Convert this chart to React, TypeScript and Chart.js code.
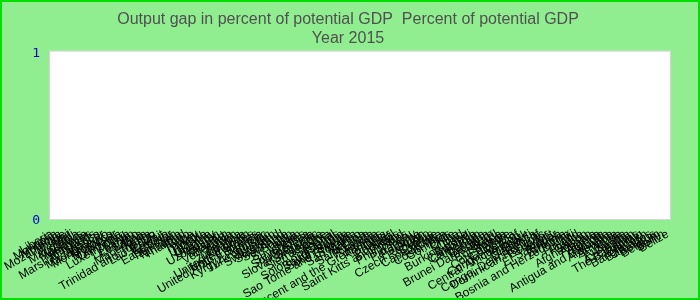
import React, { useEffect, useRef } from 'react';
import { Chart, registerables } from 'chart.js';

Chart.register(...registerables);

const titleLines = ['Output gap in percent of potential GDP  Percent of potential GDP', 'Year 2015'];

const countries = [
  'Liberia', 'Mongolia', 'Moldova', 'Mozambique', 'Malawi', 'Mali', 'Mauritania', 'Mauritius', 'Malaysia', 'Maldives',
  'Marshall Islands', 'Mexico', 'Madagascar', 'Montenegro', 'Morocco', 'Myanmar', 'Lithuania', 'Luxembourg', 'Libya', 'Lebanon',
  'Lesotho', 'Latvia', 'Macedonia', 'Malta', 'Trinidad and Tobago', 'Lao P.D.R.', 'Kuwait', 'Kosovo', 'East Timor', 'Tajikistan',
  'Tanzania', 'Thailand', 'Togo', 'Tonga', 'Turkey', 'Tuvalu', 'Uganda', 'Ukraine', 'Uruguay', 'Uzbekistan',
  'Vanuatu', 'Vietnam', 'Venezuela', 'Yemen', 'Zambia', 'Zimbabwe', 'United Kingdom', 'United States', 'United Arab Emirates', 'Tunisia',
  'Kyrgyz Republic', 'Turkmenistan', 'Sweden', 'Switzerland', 'Swaziland', 'Suriname', 'Sudan', 'Sri Lanka', 'Spain', 'Seychelles',
  'South Africa', 'Slovenia', 'Slovak Republic', 'Singapore', 'Sierra Leone', 'Serbia', 'Senegal', 'Solomon Islands', 'Saudi Arabia', 'South Sudan',
  'Sao Tome and Principe', 'Somalia', 'San Marino', 'Samoa', 'Saint Lucia', 'Rwanda', 'Russia', 'Saint Vincent and the Grenadines', 'Romania', 'Qatar',
  'Portugal', 'Saint Kitts and Nevis', 'Poland', 'Philippines', 'Peru', 'Paraguay', 'Panama', 'Oman', 'Czech Republic', 'Cyprus',
  'Cape Verde', 'Croatia', 'Costa Rica', 'Comoros', 'Chile', 'China', 'Chad', 'Burkina Faso', 'Burundi', 'Cambodia',
  'Cameroon', 'Canada', 'Bulgaria', 'Brunei Darussalam', 'Brazil', 'Botswana', 'Bolivia', "Cote d'Ivoire", 'Colombia', 'Congo, Rep. of',
  'Central African Rep.', 'Denmark', 'Djibouti', 'Dominica', 'Congo, Dem. Rep. of', 'Dominican Republic', 'Ecuador', 'Egypt', 'El Salvador', 'Eritrea',
  'Ethiopia', 'Bosnia and Herzegovina', 'Fiji', 'Finland', 'France', 'Gabon', 'Afghanistan', 'Albania', 'Algeria', 'Angola',
  'Antigua and Barbuda', 'Argentina', 'Armenia', 'Aruba', 'Australia', 'Austria', 'Azerbaijan', 'The Bahamas', 'Bahrain', 'Bangladesh',
  'Barbados', 'Belarus', 'Belgium', 'Benin', 'Belize',
];

// The 2015 output-gap series draws no bars in the reference: no values are plotted.
const outputGap2015: (number | null)[] = [];

const yTicks = [0, 1];

const framePlugin = {
  id: 'frame',
  beforeDraw(chart: any) {
    const { ctx, width, height, chartArea: a } = chart;
    ctx.save();
    ctx.fillStyle = '#90EE90';
    ctx.fillRect(0, 0, width, height);
    ctx.fillStyle = '#ffffff';
    ctx.fillRect(a.left, a.top, a.right - a.left, a.bottom - a.top);
    ctx.strokeStyle = '#d6d6d6';
    ctx.lineWidth = 1;
    ctx.strokeRect(a.left - 0.5, a.top - 0.5, a.right - a.left + 1, a.bottom - a.top + 1);
    ctx.restore();
  },
  afterDraw(chart: any) {
    const { ctx, width, height } = chart;
    ctx.save();
    ctx.strokeStyle = '#00e000';
    ctx.lineWidth = 2;
    ctx.strokeRect(1, 1, width - 2, height - 2);
    ctx.restore();
  },
};

export default function App() {
  const ref = useRef<HTMLCanvasElement | null>(null);

  useEffect(() => {
    if (!ref.current) return;
    const chart = new Chart(ref.current, {
      type: 'bar',
      data: {
        labels: countries,
        datasets: [
          {
            label: 'Output gap',
            data: outputGap2015 as any,
            backgroundColor: '#4472c4',
          },
        ],
      },
      options: {
        responsive: false,
        animation: false,
        layout: { padding: { left: 26, right: 30, top: 0, bottom: 0 } },
        plugins: {
          legend: { display: false },
          tooltip: { enabled: false },
          title: {
            display: true,
            text: titleLines,
            color: '#505050',
            font: { family: "'Liberation Sans', Arial, sans-serif", size: 16, weight: 'normal' },
            padding: { top: 10, bottom: 3 },
          },
        },
        scales: {
          x: {
            grid: { display: false },
            border: { display: false },
            ticks: {
              autoSkip: false,
              maxRotation: 30,
              minRotation: 30,
              padding: 0,
              color: '#000000',
              font: { family: "'Liberation Sans', Arial, sans-serif", size: 12 },
            },
            afterFit: (s: any) => {
              s.height = 81;
            },
          },
          y: {
            min: yTicks[0],
            max: yTicks[yTicks.length - 1],
            grid: { display: false },
            border: { display: false },
            ticks: {
              stepSize: 1,
              padding: 2,
              labelOffset: 2,
              color: '#0000cc',
              font: { family: "'DejaVu Sans Mono', monospace", size: 13 },
            },
            afterFit: (s: any) => {
              s.width = 24;
            },
          },
        },
      },
      plugins: [framePlugin],
    });
    return () => chart.destroy();
  }, []);

  return (
    <canvas
      ref={ref}
      width={700}
      height={300}
      style={{ position: 'fixed', left: 0, top: 0, width: 700, height: 300, display: 'block' }}
    />
  );
}
